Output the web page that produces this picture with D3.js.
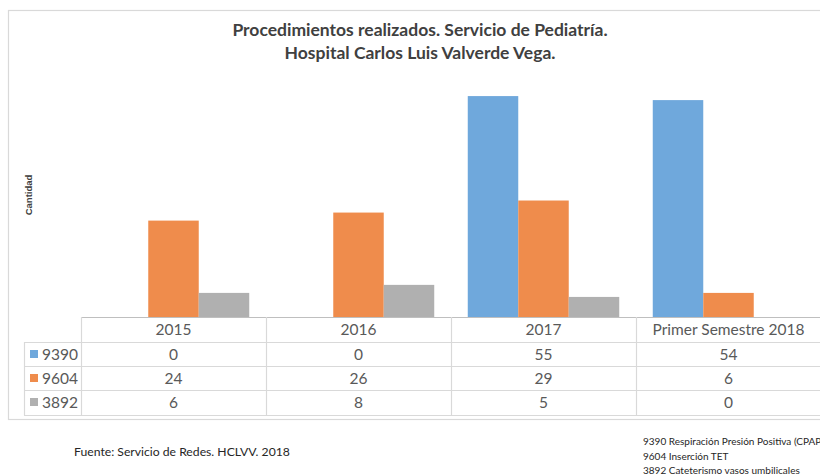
<!DOCTYPE html>
<html><head><meta charset="utf-8">
<script src="https://cdn.jsdelivr.net/npm/d3@7"></script>
<style>body{margin:0;background:#fff}svg{display:block}</style>
</head><body>
<svg id="c" width="820" height="476"></svg>
<script>
const categories = ["2015","2016","2017","Primer Semestre 2018"];
const seriesNames = ["9390","9604","3892"];
const s9390 = [0,0,55,54];
const s9604 = [24,26,29,6];
const s3892 = [6,8,5,0];
const seriesValues = [s9390, s9604, s3892];
const colors = ["#6fa8dc","#ef8c4c","#b0b0b0"];
const titleLines = ["Procedimientos realizados. Servicio de Pediatría.","Hospital Carlos Luis Valverde Vega."];
const sourceText = "Fuente: Servicio de Redes. HCLVV. 2018";
const notes = ["9390 Respiración Presión Positiva (CPAP)","9604 Inserción TET","3892 Cateterismo vasos umbilicales"];

const svg = d3.select("#c");
const font = "Lato, 'Open Sans', sans-serif";
// frame
svg.append("rect").attr("x",8.5).attr("y",10.5).attr("width",830).attr("height",409)
  .attr("fill","#fff").attr("stroke","#d9d9d9").attr("stroke-width",1.2);

// title
svg.selectAll("text.title").data(titleLines).join("text").attr("class","title")
  .attr("x",420).attr("y",(d,i)=>36+i*23).attr("text-anchor","middle")
  .attr("font-family",font).attr("font-weight","bold").attr("font-size",17.5)
  .attr("fill","#404040").text(d=>d);

// y label
svg.append("text").attr("transform","translate(32,195) rotate(-90)")
  .attr("text-anchor","middle").attr("font-family","Liberation Sans, Arial, sans-serif")
  .attr("font-weight","bold").attr("font-size",9.5).attr("fill","#404040").text("Cantidad");

const x = d3.scaleBand().domain(categories).range([81,821]).padding(0);
const xs = d3.scaleBand().domain(seriesNames).range([0,x.bandwidth()]).paddingInner(0).paddingOuter(0.332);
const y = d3.scaleLinear().domain([0,60]).range([317,76]);

const g = svg.append("g");
seriesNames.forEach((s,si)=>{
  g.selectAll("rect.s"+si).data(categories).join("rect").attr("class","s"+si)
    .attr("x",c=>x(c)+xs(s)).attr("width",xs.bandwidth())
    .attr("y",(c,ci)=>y(seriesValues[si][ci]))
    .attr("height",(c,ci)=>y(0)-y(seriesValues[si][ci]))
    .attr("fill",colors[si]);
});

// table
const rowY = [317,342,366,390,415];
const lc = "#d9d9d9";
const t = svg.append("g");
t.append("line").attr("x1",81).attr("x2",830).attr("y1",317.5).attr("y2",317.5).attr("stroke","#bfbfbf").attr("stroke-width",1.2);
[1,2,3,4].forEach(i=>{
  t.append("line").attr("x1",24).attr("x2",830).attr("y1",rowY[i]+0.5).attr("y2",rowY[i]+0.5).attr("stroke",lc).attr("stroke-width",1.2);
});
t.append("line").attr("x1",24.5).attr("x2",24.5).attr("y1",342).attr("y2",415.5).attr("stroke",lc).attr("stroke-width",1.2);
categories.forEach(c=>{
  t.append("line").attr("x1",x(c)+0.5).attr("x2",x(c)+0.5).attr("y1",317).attr("y2",415.5).attr("stroke",lc).attr("stroke-width",1.2);
});
t.selectAll("text.hdr").data(categories).join("text").attr("class","hdr")
  .attr("x",c=>x(c)+x.bandwidth()/2).attr("y",335).attr("text-anchor","middle")
  .attr("font-family",font).attr("font-size",15.5).attr("fill","#595959").text(d=>d);
seriesNames.forEach((s,si)=>{
  const yy = rowY[si+1];
  t.append("rect").attr("x",30).attr("y",yy+8).attr("width",8).attr("height",8).attr("fill",colors[si]);
  t.append("text").attr("x",42).attr("y",yy+18).attr("font-family",font).attr("font-size",15.5)
    .attr("fill","#595959").text(s);
  t.selectAll("text.v"+si).data(categories).join("text").attr("class","v"+si)
    .attr("x",c=>x(c)+x.bandwidth()/2).attr("y",yy+18).attr("text-anchor","middle")
    .attr("font-family",font).attr("font-size",15.5).attr("fill","#595959")
    .text((c,ci)=>seriesValues[si][ci]);
});

// footer
svg.append("text").attr("x",74).attr("y",456).attr("font-family",font).attr("font-size",12.2)
  .attr("fill","#262626").text(sourceText);
svg.selectAll("text.note").data(notes).join("text").attr("class","note")
  .attr("x",643).attr("y",(d,i)=>445+i*14.5).attr("font-family","'Liberation Sans Narrow', Lato, sans-serif")
  .attr("font-size",10).attr("fill","#262626").text(d=>d);
</script>
</body></html>
